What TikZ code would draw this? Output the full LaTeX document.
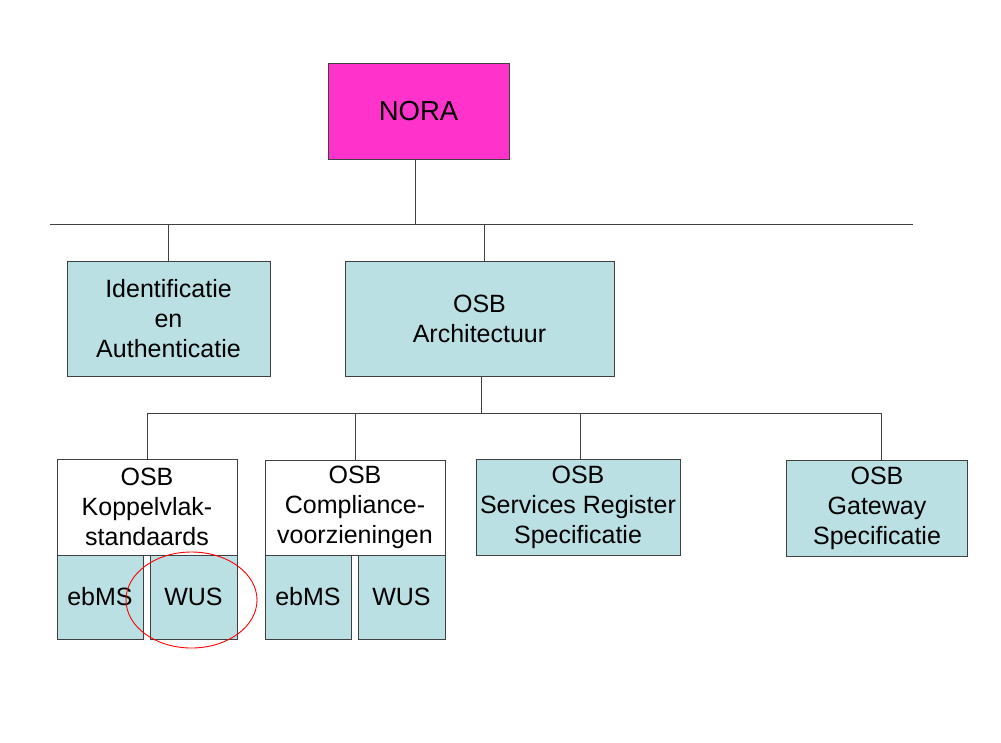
\documentclass[tikz,border=0pt]{standalone}
\usepackage{fontspec}
\setmainfont{Liberation Sans}
\definecolor{noramagenta}{HTML}{FF33CC}
\definecolor{osbblue}{HTML}{BBE0E3}
\definecolor{lijn}{HTML}{404040}
\begin{document}
\begin{tikzpicture}[x=1pt, y=-1pt,
        blok/.style={draw=lijn, fill=osbblue, inner sep=0pt, align=center,
            font=\fontsize{25}{30}\selectfont},
        wit/.style={blok, fill=white},
        verbind/.style={draw=lijn, line width=0.9pt}]
    \useasboundingbox[fill=white] (0, 0) rectangle (1001, 742);
    \node[blok, fill=noramagenta, minimum width=181pt, minimum height=96pt,
        font=\fontsize{27.5}{30}\selectfont] (nora) at (418.5, 111) {NORA};
    \node[blok, minimum width=203pt, minimum height=115pt] (ident) at (168.5, 318.5) {Identificatie\\en\\Authenticatie};
    \node[blok, minimum width=269pt, minimum height=115pt] (arch) at (479.5, 318.5) {OSB\\Architectuur};
    \node[wit, minimum width=180pt, minimum height=96pt] (koppel) at (147, 507) {OSB\\Koppelvlak-\\standaards};
    \node[blok, minimum width=86pt, minimum height=84pt] (koppelebms) at (100, 597) {ebMS};
    \node[blok, minimum width=87pt, minimum height=84pt] (koppelwus) at (193.5, 597) {WUS};
    \node[wit, minimum width=180pt, minimum height=95pt] (compl) at (355, 507.5) {OSB\\Compliance-\\voorzieningen};
    \node[blok, minimum width=86pt, minimum height=84pt] (complebms) at (308, 597) {ebMS};
    \node[blok, minimum width=87pt, minimum height=84pt] (complwus) at (401.5, 597) {WUS};
    \node[blok, minimum width=204pt, minimum height=96pt] (register) at (578, 507) {OSB\\Services Register\\Specificatie};
    \node[blok, minimum width=181pt, minimum height=96pt] (gateway) at (877, 508) {OSB\\Gateway\\Specificatie};
    % verbindingslijnen
    \coordinate (balk1l) at (50, 224);
    \coordinate (balk1r) at (913, 224);
    \coordinate (balk2l) at (147, 413);
    \coordinate (balk2r) at (881, 413);
    \draw[verbind] (balk1l) -- (balk1r);
    \draw[verbind] ([xshift=-3pt]nora.south) -- ([xshift=-3pt]nora.south |- balk1l);
    \draw[verbind] (ident.north) -- (ident.north |- balk1l);
    \draw[verbind] ([xshift=5pt]arch.north) -- ([xshift=5pt]arch.north |- balk1l);
    \draw[verbind] (balk2l) -- (balk2r);
    \draw[verbind] ([xshift=2pt]arch.south) -- ([xshift=2pt]arch.south |- balk2l);
    \draw[verbind] (koppel.north) -- (koppel.north |- balk2l);
    \draw[verbind] (compl.north) -- (compl.north |- balk2l);
    \draw[verbind] ([xshift=2pt]register.north) -- ([xshift=2pt]register.north |- balk2l);
    \draw[verbind] (gateway.north -| balk2r) -- (balk2r);
    % markering WUS
    \coordinate (markering) at (191.5, 600);
    \draw[red, line width=0.9pt] (markering) ellipse [x radius=65.5pt, y radius=48pt];
\end{tikzpicture}
\end{document}
